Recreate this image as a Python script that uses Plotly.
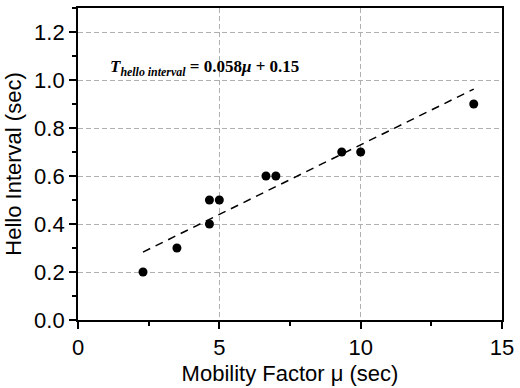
import plotly.graph_objects as go

# Data
mobility = [2.3, 3.5, 4.65, 4.65, 5.0, 6.65, 7.0, 9.33, 10.0, 14.0]
hello_interval = [0.2, 0.3, 0.4, 0.5, 0.5, 0.6, 0.6, 0.7, 0.7, 0.9]
fit_x = [2.3, 14.0]
fit_y = [0.283, 0.962]

x_ticks = [0, 5, 10, 15]
y_ticks = [0.0, 0.2, 0.4, 0.6, 0.8, 1.0, 1.2]

fig = go.Figure()
fig.add_trace(go.Scatter(
    x=fit_x, y=fit_y, mode="lines",
    line=dict(color="black", width=1.5, dash="8px,6px"),
    showlegend=False, hoverinfo="skip"))
fig.add_trace(go.Scatter(
    x=mobility, y=hello_interval, mode="markers",
    marker=dict(color="black", size=9),
    showlegend=False))

axis_common = dict(
    showline=True, linecolor="black", linewidth=1.8, mirror=True,
    ticks="outside", tickcolor="black", tickwidth=1.5, ticklen=7,
    showgrid=True, gridcolor="#b0b0b0", gridwidth=1, griddash="5px,3px",
    zeroline=False,
    tickfont=dict(family="Liberation Sans, Arial", size=22, color="black"),
)

fig.update_xaxes(
    range=[0, 15], tickvals=x_ticks, ticktext=[str(v) for v in x_ticks],
    minor=dict(dtick=2.5, tick0=0, ticks="outside", ticklen=4, tickcolor="black", tickwidth=1.5, showgrid=False),
    title=dict(text="Mobility Factor μ (sec)", font=dict(family="Liberation Sans, Arial", size=22, color="black"), standoff=6),
    **axis_common)
fig.update_yaxes(
    range=[0, 1.3], tickvals=y_ticks, ticktext=[f"{v:.1f}" for v in y_ticks],
    minor=dict(dtick=0.1, tick0=0, ticks="outside", ticklen=4, tickcolor="black", tickwidth=1.5, showgrid=False),
    title=dict(text="Hello Interval (sec)", font=dict(family="Liberation Sans, Arial", size=22, color="black"), standoff=6),
    **axis_common)

fig.add_annotation(
    x=1.05, y=1.05, xref="x", yref="y", xanchor="left", yanchor="middle",
    text="<b><i>T</i></b><sub><b><i>hello interval</i></b></sub><b> = 0.058<i>μ</i> + 0.15</b>",
    showarrow=False,
    font=dict(family="Liberation Serif, Times New Roman", size=17, color="black"))

fig.update_layout(
    width=520, height=388,
    margin=dict(l=78, r=13, t=6, b=66),
    plot_bgcolor="white", paper_bgcolor="white",
)

fig.write_html("out.html")
